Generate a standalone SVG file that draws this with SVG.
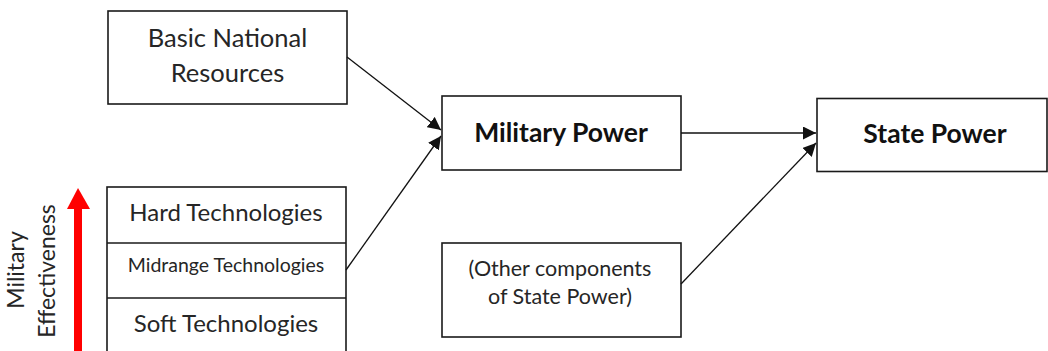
<svg xmlns="http://www.w3.org/2000/svg" width="1048" height="351" viewBox="0 0 1048 351">
<style>
.box{fill:#fff;stroke:#1a1a1a;stroke-width:1.6}
.t{font-family:Lato,"Liberation Sans",sans-serif;font-size:21px;fill:#262626;text-anchor:middle}
.b{font-weight:bold;fill:#111;font-size:26.5px}
.l{font-size:25.5px}
.m{font-size:24px}
.s{font-size:19.5px}
.o{font-size:21.5px}
.v{font-size:23px}
.c{stroke:#111;stroke-width:1.3;fill:none;marker-end:url(#ah)}
</style>
<defs>
<marker id="ah" viewBox="0 0 10 10" refX="10" refY="5" markerWidth="13" markerHeight="13" markerUnits="userSpaceOnUse" orient="auto">
<path d="M0,0 L10,5 L0,10 z" fill="#111"/>
</marker>
</defs>
<rect width="1048" height="351" fill="#fff"/>
<g id="basic">
<rect class="box" x="108" y="11" width="239" height="93"/>
<text class="t l" x="227.5" y="47">Basic National</text>
<text class="t l" x="227.5" y="82">Resources</text>
</g>
<g id="military">
<rect class="box" x="442" y="96" width="239" height="74"/>
<text class="t b" x="561" y="142">Military Power</text>
</g>
<g id="state">
<rect class="box" x="817" y="98.5" width="230" height="73"/>
<text class="t b" x="935" y="143">State Power</text>
</g>
<g id="other">
<rect class="box" x="442" y="243" width="239" height="94"/>
<text class="t o" x="560" y="276">(Other components</text>
<text class="t o" x="560" y="304">of State Power)</text>
</g>
<g id="technologies">
<rect class="box" x="107" y="187" width="239" height="170"/>
<line x1="107" y1="243" x2="346" y2="243" stroke="#1a1a1a" stroke-width="1.6"/>
<line x1="107" y1="298" x2="346" y2="298" stroke="#1a1a1a" stroke-width="1.6"/>
<text class="t m" x="226" y="221">Hard Technologies</text>
<text class="t s" x="226" y="272">Midrange Technologies</text>
<text class="t m" x="226" y="332">Soft Technologies</text>
</g>
<g id="effectiveness">
<rect x="74" y="207" width="8" height="150" fill="#ff0000"/>
<path d="M67,209 L78,188 L90,209 z" fill="#ff0000"/>
<text class="t v" transform="translate(24,270) rotate(-90)">Military</text>
<text class="t v" transform="translate(55,271) rotate(-90)">Effectiveness</text>
</g>
<g id="connectors">
<line class="c" x1="347" y1="57" x2="441" y2="130"/>
<line class="c" x1="346" y1="270" x2="441" y2="136"/>
<line class="c" x1="681" y1="133" x2="816" y2="133"/>
<line class="c" x1="681" y1="284" x2="816" y2="143"/>
</g>
</svg>
